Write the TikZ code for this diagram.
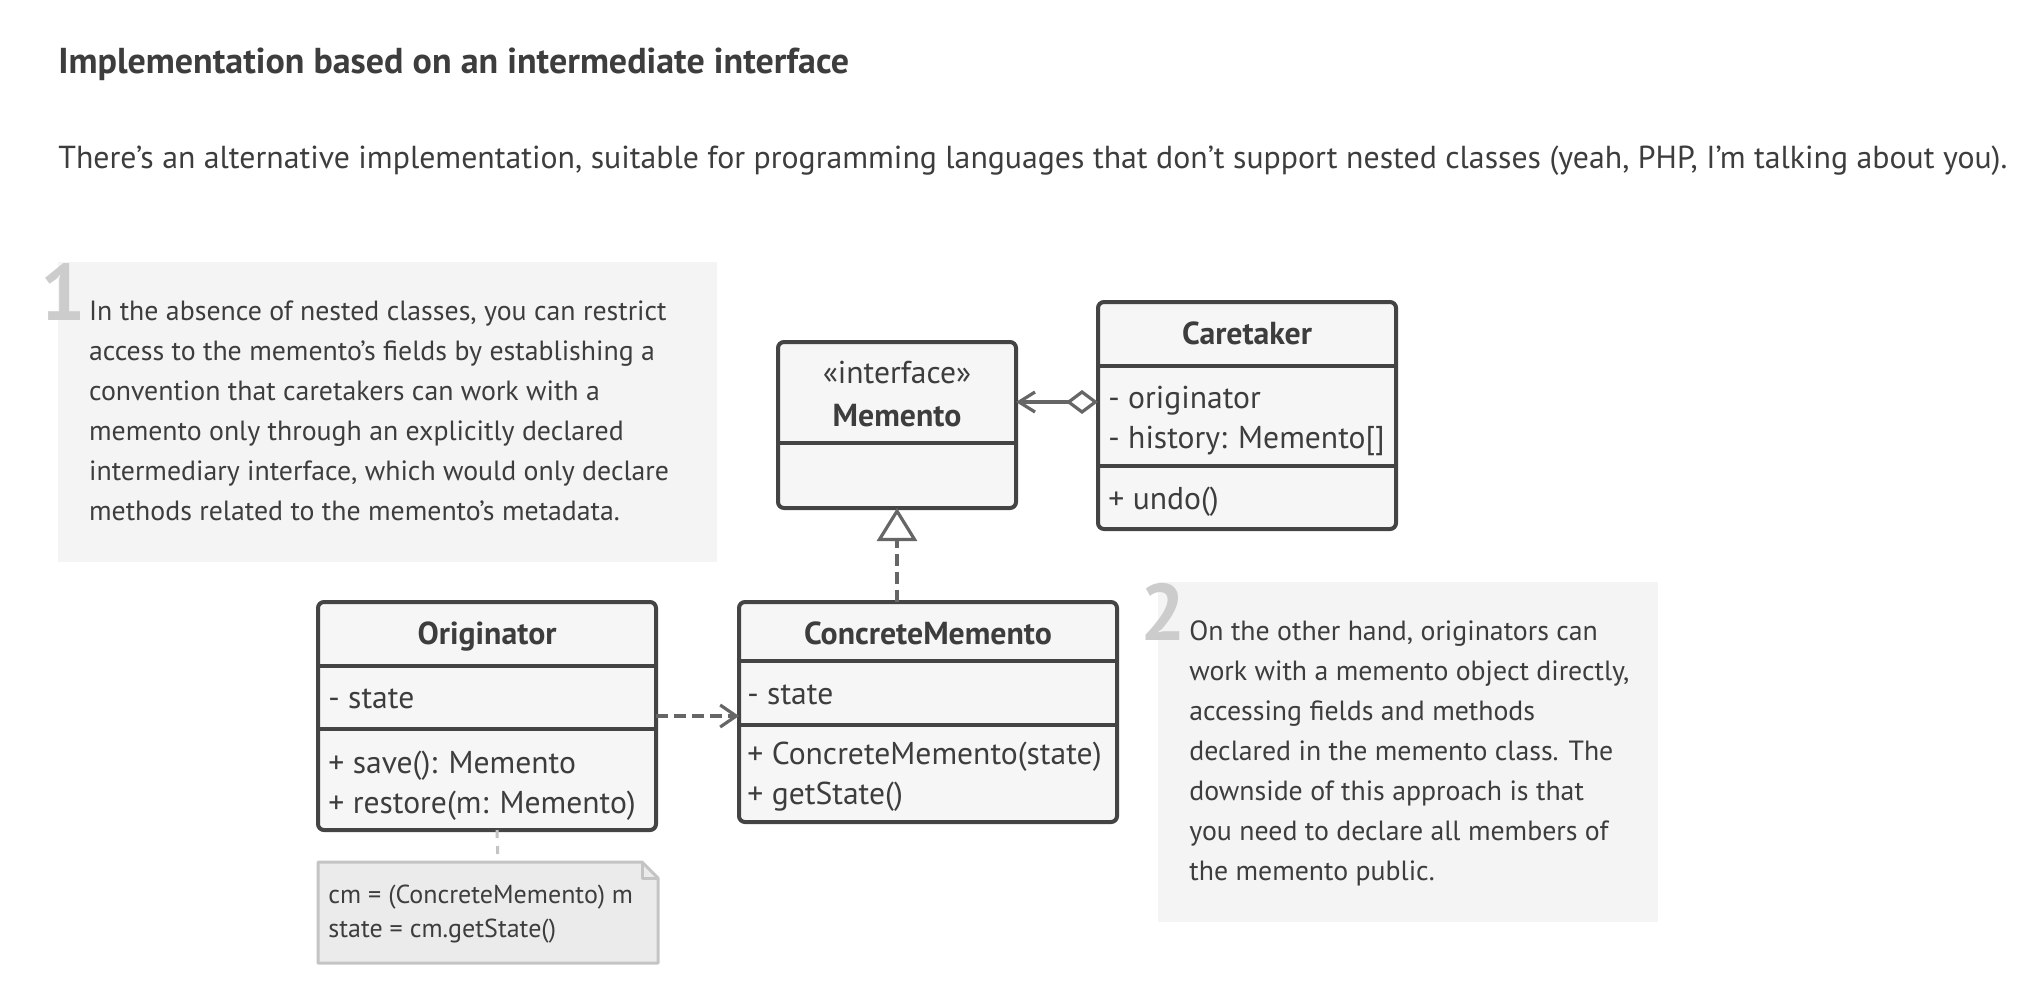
\documentclass[tikz,border=0pt]{standalone}
\usepackage{fontspec}
\setmainfont{PT Sans}
\usetikzlibrary{arrows.meta}
\definecolor{txt}{HTML}{3D3D3D}
\definecolor{boxline}{HTML}{444444}
\definecolor{boxfill}{HTML}{F6F6F6}
\definecolor{arr}{HTML}{666666}
\definecolor{notebg}{HTML}{F4F4F4}
\definecolor{digit}{HTML}{CCCCCC}
\definecolor{codeline}{HTML}{C4C4C4}
\definecolor{codefill}{HTML}{EBEBEB}
\begin{document}
\begin{tikzpicture}[x=0.5pt,y=-0.5pt,
  classbox/.style={draw=boxline, line width=2pt, fill=boxfill, rounded corners=3pt, inner sep=0pt, outer sep=0pt},
  divider/.style={draw=boxline, line width=2pt},
  ctitle/.style={font=\fontsize{15.9}{20}\selectfont\bfseries, text=txt, inner sep=0pt, anchor=base},
  cfield/.style={font=\fontsize{15.8}{20}\selectfont, text=txt, inner sep=0pt, anchor=base west},
  notetext/.style={font=\fontsize{13.9}{20}\selectfont, text=txt, inner sep=0pt, anchor=base west, align=left},
  codetext/.style={font=\fontsize{13}{17}\selectfont, text=txt, inner sep=0pt, anchor=base west, align=left},
  bignum/.style={font=\fontsize{40}{40}\selectfont\bfseries, text=digit, inner sep=0pt, anchor=base west},
  notebox/.style={fill=notebg, draw=none, inner sep=0pt, outer sep=0pt},
  link/.style={draw=arr, line width=1.6pt},
  dashedlink/.style={link, dash pattern=on 6pt off 3pt},
  notelink/.style={draw=codeline, line width=1.5pt, dash pattern=on 4pt off 4pt}
]
\useasboundingbox (0,0) rectangle (2044,1002);

% title and intro
\node[anchor=base west, inner sep=0pt, text=txt, font=\fontsize{18}{22}\selectfont\bfseries] (title) at (58,73)
  {Implementation based on an intermediate interface};
\node[anchor=base west, inner sep=0pt, text=txt, font=\fontsize{15.9}{18}\selectfont] (intro) at (58,168)
  {There’s an alternative implementation, suitable for programming languages that don’t support nested classes (yeah, PHP, I’m talking about you).};

% note 1 (anchor at the baseline of the last line)
\node[notebox, minimum width=329.5pt, minimum height=150pt, anchor=north west] (note1) at (58,262) {};
\node[bignum] (num1) at (40,320) {1};
\node[notetext] (note1text) at (88.7,520) {In the absence of nested classes, you can restrict\\
access to the memento’s fields by establishing a\\
convention that caretakers can work with a\\
memento only through an explicitly declared\\
intermediary interface, which would only declare\\
methods related to the memento’s metadata.};

% note 2
\node[notebox, minimum width=250pt, minimum height=170pt, anchor=north west] (note2) at (1158,582) {};
\node[bignum] (num2) at (1140,640) {2};
\node[notetext] (note2text) at (1189,880) {On the other hand, originators can\\
work with a memento object directly,\\
accessing fields and methods\\
declared in the memento class. The\\
downside of this approach is that\\
you need to declare all members of\\
the memento public.};

% Memento
\node[classbox, minimum width=119pt, minimum height=83pt] (memento) at (897,425) {};
\draw[divider] (memento.west |- 0,443) -- (memento.east |- 0,443);
\node[ctitle, font=\fontsize{15.8}{20}\selectfont] (mementost) at (897,383) {«interface»};
\node[ctitle] (mementoname) at (897,426) {Memento};

% Caretaker
\node[classbox, minimum width=149pt, minimum height=113.5pt] (caretaker) at (1247,415.5) {};
\draw[divider] (caretaker.west |- 0,366) -- (caretaker.east |- 0,366);
\draw[divider] (caretaker.west |- 0,466) -- (caretaker.east |- 0,466);
\node[ctitle] (caretakername) at (1247,344) {Caretaker};
\node[cfield] (caretakerf1) at (1108,408) {- originator};
\node[cfield] (caretakerf2) at (1108,448) {- history: Memento[]};
\node[cfield] (caretakerm1) at (1108,509) {+ undo()};

% Originator
\node[classbox, minimum width=169pt, minimum height=114pt] (originator) at (487,716) {};
\draw[divider] (originator.west |- 0,666) -- (originator.east |- 0,666);
\draw[divider] (originator.west |- 0,729) -- (originator.east |- 0,729);
\node[ctitle] (originatorname) at (487,644) {Originator};
\node[cfield] (originatorf1) at (328,708) {- state};
\node[cfield] (originatorm1) at (328,773) {+ save(): Memento};
\node[cfield] (originatorm2) at (328,813) {+ restore(m: Memento)};

% ConcreteMemento
\node[classbox, minimum width=189pt, minimum height=110pt] (concrete) at (928,712) {};
\draw[divider] (concrete.west |- 0,661) -- (concrete.east |- 0,661);
\draw[divider] (concrete.west |- 0,725) -- (concrete.east |- 0,725);
\node[ctitle] (concretename) at (928,644) {ConcreteMemento};
\node[cfield] (concretef1) at (747,704) {- state};
\node[cfield] (concretem1) at (747,764) {+ ConcreteMemento(state)};
\node[cfield] (concretem2) at (747,804) {+ getState()};

% code note
\node[minimum width=170pt, minimum height=50.5pt, inner sep=0pt, outer sep=0pt] (code) at (488,912.5) {};
\draw[draw=codeline, fill=codefill, line width=1.5pt, line join=round]
  (code.north west) -- ([xshift=-8pt]code.north east) -- ([yshift=-8pt]code.north east)
  -- (code.south east) -- (code.south west) -- cycle;
\draw[draw=codeline, line width=1.5pt, line join=round]
  ([xshift=-8pt]code.north east) |- ([yshift=-8pt]code.north east);
\node[codetext] (codetext) at (328,937) {cm = (ConcreteMemento) m\\state = cm.getState()};

% connectors
\draw[dashedlink, -{Triangle[open, length=16.5pt, width=20pt, fill=white]}]
  (memento.south |- concrete.north) -- (memento.south);
\draw[link, {Diamond[open, length=16pt, width=12pt, fill=white]}-{Straight Barb[length=8pt, width=10pt]}]
  (caretaker.west |- 0,402) -- (memento.east |- 0,402);
\draw[dashedlink, -{Straight Barb[length=8pt, width=11pt]}]
  (originator.east) -- (concrete.west |- originator.east);
\draw[notelink] ([xshift=5pt]originator.south) -- ([xshift=5pt]code.north);
\end{tikzpicture}
\end{document}
